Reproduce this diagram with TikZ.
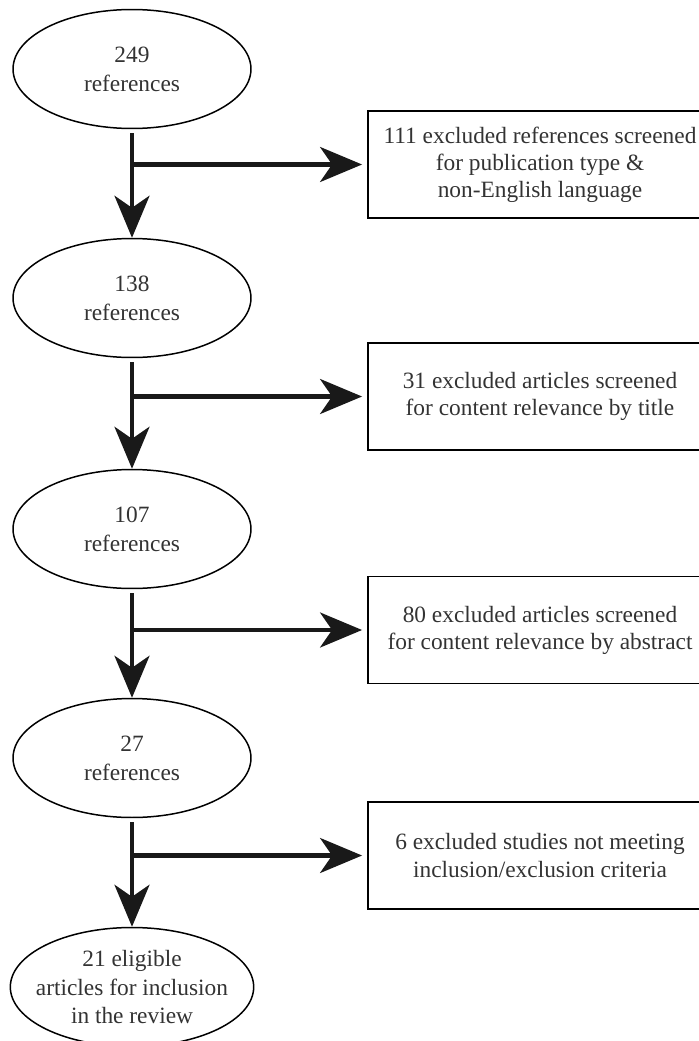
\documentclass[tikz,border=0pt]{standalone}
\usepackage{fontspec}
\setmainfont{Liberation Serif}
\usetikzlibrary{shapes.geometric, arrows.meta, positioning}

\begin{document}
\begin{tikzpicture}[
    x=0.02cm, y=-0.02cm,
    refs/.style={draw, ellipse, line width=0.85pt, minimum width=4.76cm, minimum height=2.38cm, inner xsep=-2mm, inner ysep=0pt, align=center, text=black!80, font=\fontsize{13.3}{16.5}\selectfont},
    excl/.style={draw, line width=1.1pt, minimum width=6.88cm, minimum height=2.14cm, align=center, text=black!80, font=\fontsize{13.3}{15.4}\selectfont},
    arr/.style={-{Stealth[length=8.4mm, width=7mm, inset=2.4mm]}, line width=2.3pt, black!90},
]
    \useasboundingbox (0,0) rectangle (699,1041);
    \clip (0,0) rectangle (699,1041);

    \node[refs] (e1) at (132, 69) {249\\references};
    \node[refs] (e2) at (132, 298) {138\\references};
    \node[refs] (e3) at (132, 529) {107\\references};
    \node[refs] (e4) at (132, 758) {27\\references};
    \node[refs] (e5) at (132, 987) {21 eligible\\articles for inclusion\\in the review};

    \node[excl] (b1) at (540, 164.5) {111 excluded references screened\\for publication type \&\\non-English language};
    \node[excl] (b2) at (540, 396.5) {31 excluded articles screened\\for content relevance by title};
    \node[excl] (b3) at (540, 630) {80 excluded articles screened\\for content relevance by abstract};
    \node[excl] (b4) at (540, 855.5) {6 excluded studies not meeting\\inclusion/exclusion criteria};

    \draw[arr, shorten >=0.1cm] (e1.south |- b1.west) -- (b1.west);
    \draw[arr, shorten >=0.1cm] (e2.south |- b2.west) -- (b2.west);
    \draw[arr, shorten >=0.1cm] (e3.south |- b3.west) -- (b3.west);
    \draw[arr, shorten >=0.1cm] (e4.south |- b4.west) -- (b4.west);

    \draw[arr, shorten <=0.08cm] (e1) -- (e2);
    \draw[arr, shorten <=0.08cm] (e2) -- (e3);
    \draw[arr, shorten <=0.08cm] (e3) -- (e4);
    \draw[arr, shorten <=0.08cm] (e4) -- (e5);
\end{tikzpicture}
\end{document}
